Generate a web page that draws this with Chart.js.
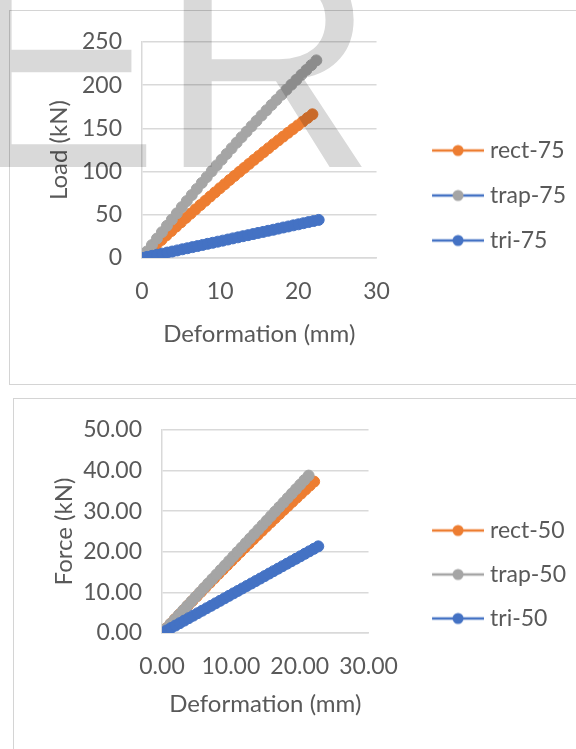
<!DOCTYPE html>
<html>
<head>
<meta charset="utf-8">
<script src="https://cdn.jsdelivr.net/npm/chart.js@4/dist/chart.umd.min.js"></script>
<style>
  html, body { margin: 0; padding: 0; background: #fff; }
  body { width: 576px; height: 749px; position: relative; overflow: hidden; }
  .box { position: absolute; border: 1.5px solid #d4d4d4; background: #fff; }
  #boxA { left: 9px; top: 10px; width: 580px; height: 373px; }
  #boxB { left: 13px; top: 398px; width: 580px; height: 380px; }
  canvas { position: absolute; left: 0; }
  #chartA { top: 0; }
  #chartB { top: 392px; }
  #mark { position: absolute; left: -41px; top: -87px; font: 300px/1 "Liberation Sans", Arial, sans-serif;
          color: #d9d9d9; mix-blend-mode: multiply; pointer-events: none; white-space: nowrap; }
</style>
</head>
<body>
<div class="box" id="boxA"></div>
<div class="box" id="boxB"></div>
<canvas id="chartA" width="576" height="392"></canvas>
<canvas id="chartB" width="576" height="357"></canvas>
<div id="mark">ER</div>
<script>
// ---- top chart: Load (kN) vs Deformation (mm)
var rect75X = [0, 0.62, 1.25, 1.87, 2.49, 3.11, 3.74, 4.36, 4.98, 5.61, 6.23, 6.85, 7.47, 8.10, 8.72, 9.34, 9.97, 10.59, 11.21, 11.83, 12.46, 13.08, 13.70, 14.33, 14.95, 15.57, 16.19, 16.82, 17.44, 18.06, 18.69, 19.31, 19.93, 20.55, 21.18, 21.80];
var rect75Y = [0, 5.3, 10.6, 15.8, 20.9, 26.1, 31.2, 36.3, 41.3, 46.4, 51.4, 56.3, 61.3, 66.2, 71.1, 75.9, 80.8, 85.5, 90.3, 95.0, 99.7, 104.3, 108.9, 113.6, 118.1, 122.6, 127.1, 131.7, 136.1, 140.5, 144.9, 149.2, 153.5, 157.8, 162.1, 166.3];
var trap75X = [0, 0.64, 1.27, 1.91, 2.55, 3.19, 3.82, 4.46, 5.10, 5.73, 6.37, 7.01, 7.65, 8.28, 8.92, 9.56, 10.19, 10.83, 11.47, 12.11, 12.74, 13.38, 14.02, 14.65, 15.29, 15.93, 16.57, 17.20, 17.84, 18.48, 19.11, 19.75, 20.39, 21.03, 21.66, 22.30];
var trap75Y = [0, 7.6, 15.0, 22.5, 29.9, 37.3, 44.5, 51.7, 58.9, 65.9, 72.9, 79.9, 86.9, 93.6, 100.4, 107.2, 113.8, 120.4, 127.0, 133.5, 139.8, 146.2, 152.5, 158.7, 164.9, 171.0, 177.1, 183.0, 188.9, 194.8, 200.6, 206.3, 212.0, 217.7, 223.2, 228.7];
var tri75X = [0, 0.65, 1.29, 1.94, 2.58, 3.23, 3.87, 4.52, 5.17, 5.81, 6.46, 7.10, 7.75, 8.39, 9.04, 9.69, 10.33, 10.98, 11.62, 12.27, 12.91, 13.56, 14.21, 14.85, 15.50, 16.14, 16.79, 17.43, 18.08, 18.73, 19.37, 20.02, 20.66, 21.31, 21.95, 22.60];
var tri75Y = [0, 1.3, 2.5, 3.8, 5.0, 6.3, 7.5, 8.8, 10.1, 11.3, 12.6, 13.8, 15.1, 16.4, 17.6, 18.9, 20.1, 21.4, 22.7, 23.9, 25.2, 26.4, 27.7, 29.0, 30.2, 31.5, 32.7, 34.0, 35.3, 36.5, 37.8, 39.0, 40.3, 41.6, 42.8, 44.1];

// ---- bottom chart: Force (kN) vs Deformation (mm)
var rect50X = [0, 0.63, 1.26, 1.89, 2.53, 3.16, 3.79, 4.42, 5.05, 5.68, 6.31, 6.95, 7.58, 8.21, 8.84, 9.47, 10.10, 10.73, 11.37, 12.00, 12.63, 13.26, 13.89, 14.52, 15.15, 15.79, 16.42, 17.05, 17.68, 18.31, 18.94, 19.57, 20.21, 20.84, 21.47, 22.10];
var rect50Y = [0, 1.15, 2.28, 3.42, 4.57, 5.69, 6.81, 7.93, 9.04, 10.14, 11.25, 12.36, 13.45, 14.54, 15.62, 16.70, 17.77, 18.84, 19.92, 20.98, 22.03, 23.08, 24.12, 25.16, 26.20, 27.24, 28.27, 29.29, 30.30, 31.31, 32.32, 33.32, 34.33, 35.32, 36.31, 37.29];
var trap50X = [0, 0.61, 1.22, 1.83, 2.43, 3.04, 3.65, 4.26, 4.87, 5.48, 6.09, 6.69, 7.30, 7.91, 8.52, 9.13, 9.74, 10.34, 10.95, 11.56, 12.17, 12.78, 13.39, 14.00, 14.60, 15.21, 15.82, 16.43, 17.04, 17.65, 18.26, 18.86, 19.47, 20.08, 20.69, 21.30];
var trap50Y = [0, 1.11, 2.22, 3.33, 4.42, 5.53, 6.64, 7.75, 8.86, 9.97, 11.08, 12.18, 13.29, 14.40, 15.51, 16.62, 17.73, 18.82, 19.93, 21.04, 22.15, 23.26, 24.37, 25.48, 26.57, 27.68, 28.79, 29.90, 31.01, 32.12, 33.23, 34.33, 35.44, 36.55, 37.66, 38.77];
var tri50X = [0, 0.65, 1.30, 1.95, 2.59, 3.24, 3.89, 4.54, 5.19, 5.84, 6.49, 7.13, 7.78, 8.43, 9.08, 9.73, 10.38, 11.03, 11.67, 12.32, 12.97, 13.62, 14.27, 14.92, 15.57, 16.21, 16.86, 17.51, 18.16, 18.81, 19.46, 20.11, 20.75, 21.40, 22.05, 22.70];
var tri50Y = [0, 0.61, 1.22, 1.83, 2.43, 3.05, 3.66, 4.27, 4.88, 5.49, 6.10, 6.70, 7.31, 7.92, 8.54, 9.15, 9.76, 10.37, 10.97, 11.58, 12.19, 12.80, 13.41, 14.02, 14.64, 15.24, 15.85, 16.46, 17.07, 17.68, 18.29, 18.90, 19.51, 20.12, 20.73, 21.34];

var labelsA = ["rect-75", "trap-75", "tri-75"];
var labelsB = ["rect-50", "trap-50", "tri-50"];
var xTicks = [0, 10, 20, 30];
var yTicksA = [0, 50, 100, 150, 200, 250];
var yTicksB = [0, 10, 20, 30, 40, 50];

var ORANGE = "#ED7D31", GRAY = "#A5A5A5", BLUE = "#4472C4";
var TEXT = "#595959", GRID = "#d9d9d9";

Chart.defaults.font.family = "Lato, 'Open Sans', sans-serif";
Chart.defaults.color = TEXT;

function pts(xs, ys) {
  return xs.map(function (x, i) { return { x: x, y: ys[i] }; });
}

// legend icon: short line with a round marker, like the office legend.
// the picture is centred in a box w wide, so it is padded on the left.
function legendIcon(lineColor, dotColor, w) {
  var c = document.createElement("canvas");
  c.width = w + 11; c.height = 14;
  var g = c.getContext("2d");
  g.strokeStyle = lineColor;
  g.lineWidth = 2.5;
  g.beginPath(); g.moveTo(w - 41, 7); g.lineTo(w + 11, 7); g.stroke();
  g.fillStyle = dotColor;
  g.beginPath(); g.arc(w - 15, 7, 5.5, 0, Math.PI * 2); g.fill();
  return c;
}

function series(label, xs, ys, line, dot, order, w) {
  return {
    label: label,
    data: pts(xs, ys),
    showLine: true,
    borderColor: line,
    borderWidth: 2.5,
    backgroundColor: dot,
    pointBackgroundColor: dot,
    pointBorderColor: dot,
    pointBorderWidth: 1,
    pointRadius: 5.5,
    order: order,
    icon: legendIcon(line, dot, w)
  };
}

function makeChart(id, datasets, cfg) {
  return new Chart(document.getElementById(id), {
    type: "scatter",
    data: { datasets: datasets },
    options: {
      responsive: false,
      animation: false,
      devicePixelRatio: 1,
      layout: { padding: cfg.padding },
      plugins: {
        tooltip: { enabled: false },
        legend: {
          position: "right",
          align: "center",
          maxWidth: 260,
          labels: {
            usePointStyle: true,
            pointStyleWidth: cfg.iconW,
            padding: cfg.legendPad,
            font: { size: 23 },
            color: TEXT,
            sort: function (a, b) { return a.datasetIndex - b.datasetIndex; },
            generateLabels: function (chart) {
              return chart.data.datasets.map(function (ds, i) {
                return { text: ds.label, pointStyle: ds.icon, datasetIndex: i,
                         fillStyle: ds.pointBackgroundColor, strokeStyle: ds.borderColor,
                         lineWidth: 0, hidden: false, fontColor: TEXT };
              });
            }
          }
        }
      },
      scales: {
        x: {
          type: "linear", min: 0, max: 30,
          afterBuildTicks: function (ax) { ax.ticks = xTicks.map(function (v) { return { value: v }; }); },
          grid: { display: false, drawTicks: false },
          border: { display: true, color: GRID, width: 1.5 },
          ticks: { padding: cfg.xPad, font: { size: 23 }, color: TEXT, callback: cfg.xFmt },
          title: { display: true, text: "Deformation (mm)", font: { size: 24 }, color: TEXT, padding: 0 },
          afterFit: function (ax) { ax.height = cfg.xHeight; }
        },
        y: {
          type: "linear", min: 0, max: cfg.yMax,
          afterBuildTicks: function (ax) { ax.ticks = cfg.yTicks.map(function (v) { return { value: v }; }); },
          grid: { color: GRID, lineWidth: 1.5, drawTicks: false },
          border: { display: true, color: GRID, width: 1.5 },
          ticks: { padding: cfg.yPad, font: { size: 23 }, color: TEXT, callback: cfg.yFmt },
          title: { display: true, text: cfg.yTitle, font: { size: 24 }, color: TEXT, padding: 0 },
          afterFit: function (ax) { ax.width = cfg.yWidth; }
        }
      }
    }
  });
}

var wA = 80, wB = 89;

makeChart("chartA", [
  series(labelsA[0], rect75X, rect75Y, ORANGE, ORANGE, 2, wA),
  series(labelsA[1], trap75X, trap75Y, BLUE, GRAY, 1, wA),
  series(labelsA[2], tri75X, tri75Y, BLUE, BLUE, 0, wA)
], {
  padding: { left: 45, top: 42, bottom: 43, right: 0 },
  yWidth: 97, xHeight: 91, xPad: 20, yPad: 20, legendPad: 22, iconW: wA,
  yMax: 250, yTicks: yTicksA, yTitle: "Load (kN)",
  xFmt: function (v) { return String(v); },
  yFmt: function (v) { return String(v); }
});

makeChart("chartB", [
  series(labelsB[0], rect50X, rect50Y, ORANGE, ORANGE, 2, wB),
  series(labelsB[1], trap50X, trap50Y, GRAY, GRAY, 1, wB),
  series(labelsB[2], tri50X, tri50Y, BLUE, BLUE, 0, wB)
], {
  padding: { left: 50, top: 38, bottom: 30, right: 0 },
  yWidth: 112, xHeight: 86, xPad: 20, yPad: 20, legendPad: 21, iconW: wB,
  yMax: 50, yTicks: yTicksB, yTitle: "Force (kN)",
  xFmt: function (v) { return v.toFixed(2); },
  yFmt: function (v) { return v.toFixed(2); }
});
</script>
</body>
</html>
